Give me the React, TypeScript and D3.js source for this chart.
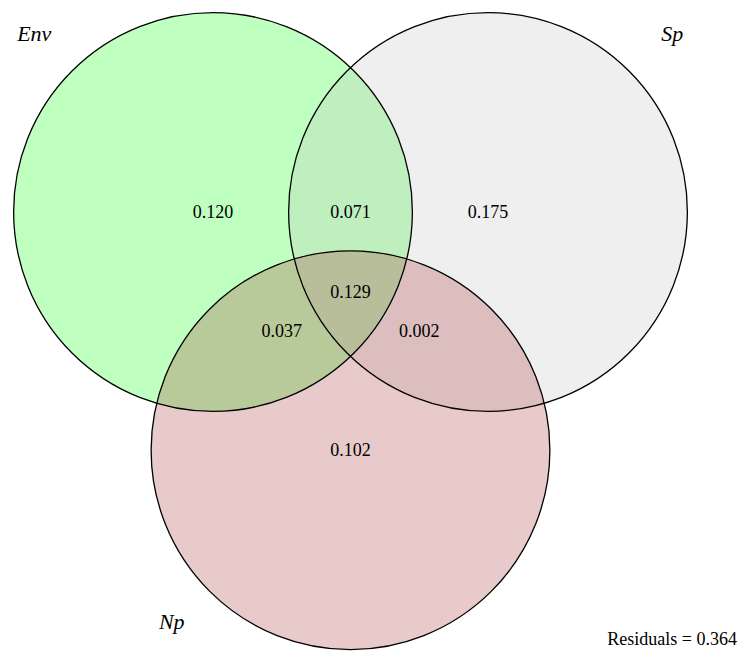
import React from 'react';
import * as d3 from 'd3';

// Set names and their fill colours (drawn with alpha 0.25, like vegan's showvarparts)
const setNames = ['Env', 'Sp', 'Np'];
const setColors = ['#00FF00', '#BEBEBE', '#A52A2A'];

// Unit layout of the three circles (vegan: unit distance between centres, radius 0.725)
const centerX = [0, 1, 0.5];
const centerY = [0, 0, -Math.sqrt(3 / 4)];
const radius = 0.725;

// Fractions and where they are written (unit coordinates)
const fractionValues = ['0.120', '0.071', '0.175', '0.129', '0.037', '0.002', '0.102'];
const fractionX = [0, 0.5, 1, 0.5, 0.25, 0.75, 0.5];
const fractionY = [0, 0, 0, -Math.sqrt(3) / 6, -Math.sqrt(3) / 4, -Math.sqrt(3) / 4, -Math.sqrt(3 / 4)];

// Set label positions (unit coordinates)
const labelX = [-0.65, 1.67, -0.15];
const labelY = [0.65, 0.65, -1.49];

const residuals = '0.364';

const W = 742;
const H = 651;
const serif = "'Liberation Serif', 'DejaVu Serif', 'Times New Roman', serif";

export default function App() {
  const x = d3.scaleLinear().domain([0, 1]).range([213, 488]);
  const y = d3.scaleLinear().domain([0, -1]).range([212, 487]);
  const r = (v: number) => x(v) - x(0);

  return (
    <svg
      width={W}
      height={H}
      style={{ position: 'absolute', left: 0, top: 0, background: '#fff' }}
    >
      {setNames.map((name, i) => (
        <circle
          key={name}
          cx={x(centerX[i])}
          cy={y(centerY[i])}
          r={r(radius)}
          fill={setColors[i]}
          fillOpacity={0.25}
          stroke="none"
        />
      ))}
      {setNames.map((name, i) => (
        <circle
          key={name + '-o'}
          cx={x(centerX[i])}
          cy={y(centerY[i])}
          r={r(radius)}
          fill="none"
          stroke="#000"
          strokeWidth={1.3}
        />
      ))}
      {fractionValues.map((v, i) => (
        <text
          key={i}
          x={x(fractionX[i])}
          y={y(fractionY[i])}
          dy="0.35em"
          textAnchor="middle"
          style={{ fontFamily: serif, fontSize: '18px' }}
          fill="#000"
        >
          {v}
        </text>
      ))}
      {setNames.map((name, i) => (
        <text
          key={name + '-l'}
          x={x(labelX[i])}
          y={y(labelY[i])}
          dy="0.35em"
          textAnchor="middle"
          style={{ fontFamily: serif, fontSize: '22px', fontStyle: 'italic' }}
          fill="#000"
        >
          {name}
        </text>
      ))}
      <text
        x={737}
        y={645}
        textAnchor="end"
        style={{ fontFamily: serif, fontSize: '18px' }}
        fill="#000"
      >
        {`Residuals = ${residuals}`}
      </text>
    </svg>
  );
}
